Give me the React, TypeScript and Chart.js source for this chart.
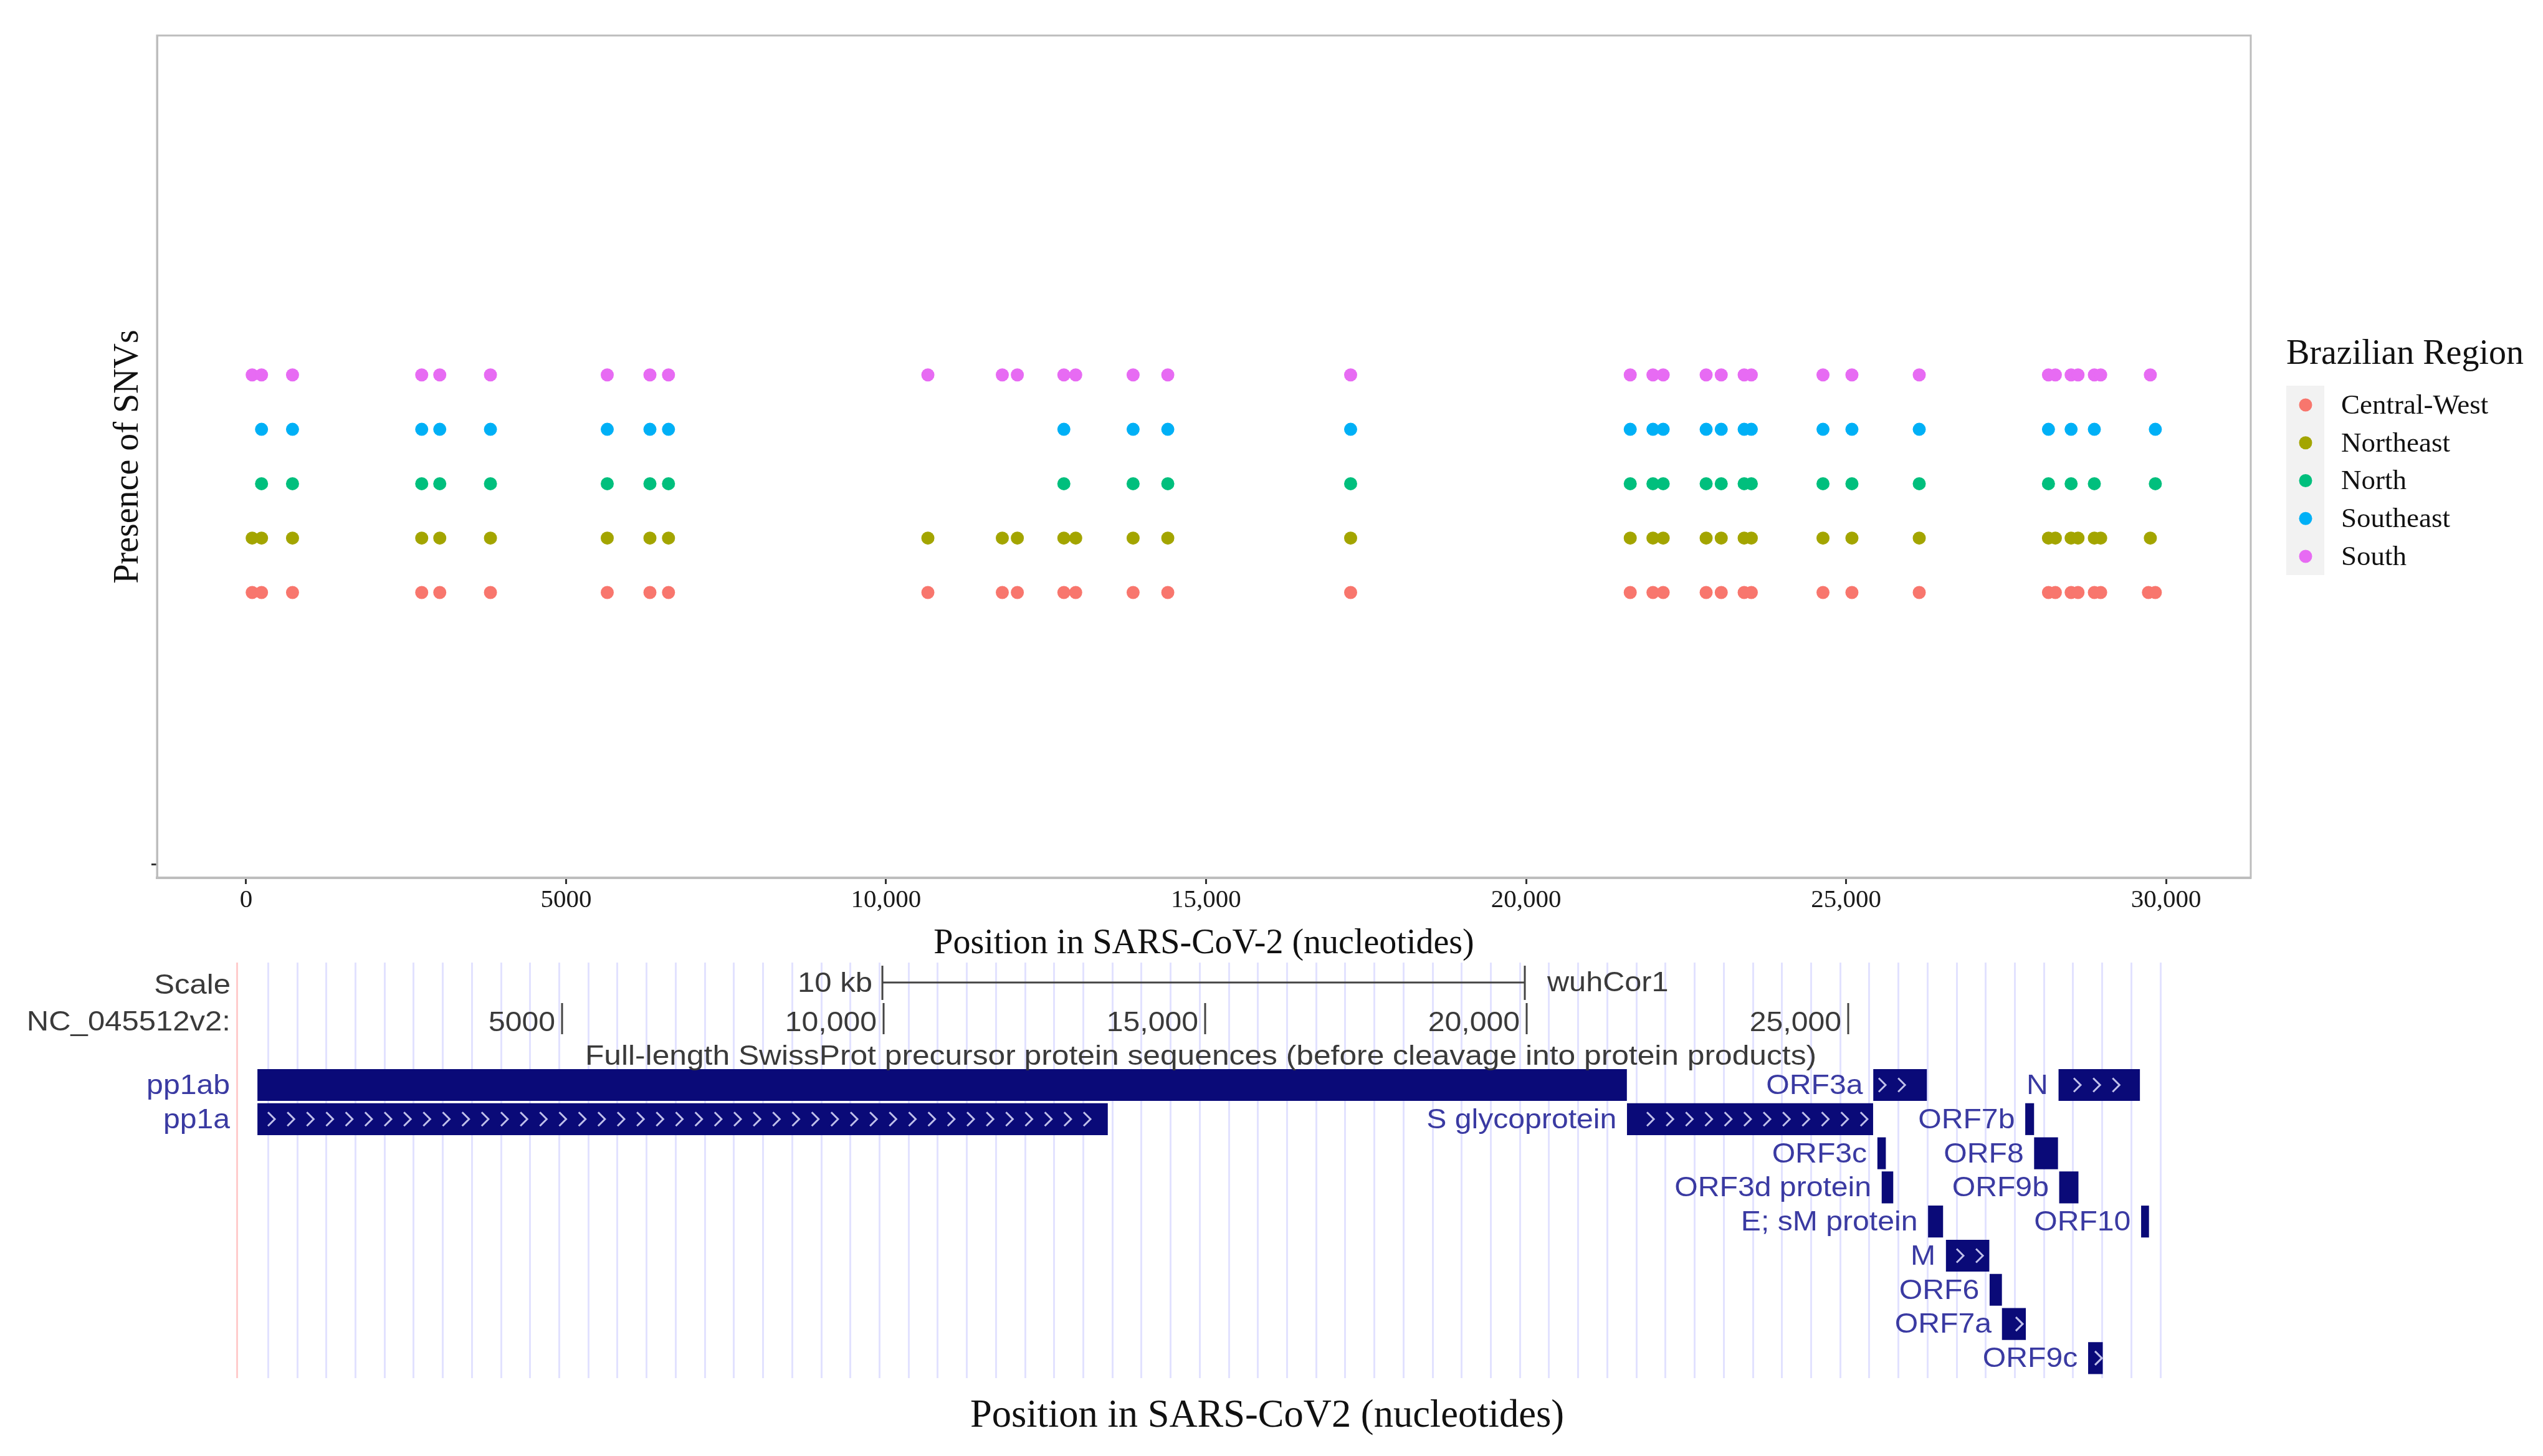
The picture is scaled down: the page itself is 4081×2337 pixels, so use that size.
import React, { useEffect, useRef } from "react";
import { Chart, registerables } from "chart.js";

Chart.register(...registerables);

const W = 4081;
const H = 2337;

// ---- upper panel data: SNV positions (nucleotides) per Brazilian region ----
const regionNames = ["Central-West", "Northeast", "North", "Southeast", "South"];
const regionColors = ["#F8766D", "#A3A500", "#00BF7D", "#00B0F6", "#E76BF3"];
const regionRows = [1, 2, 3, 4, 5];

const centralWestPositions = [
  95, 241, 725, 2744, 3026, 3818, 5643, 6310, 6600, 10653, 11816, 12051, 12778, 12963, 13860, 14402, 17259,
  21628, 21983, 22143, 22814, 23050, 23408, 23520, 24640, 25092, 26144, 28163, 28271, 28517, 28625, 28880, 28979,
  29725, 29833,
];
const northeastPositions = [
  95, 241, 725, 2744, 3026, 3818, 5643, 6310, 6600, 10653, 11816, 12051, 12778, 12963, 13860, 14402, 17259,
  21628, 21983, 22143, 22814, 23050, 23408, 23520, 24640, 25092, 26144, 28163, 28271, 28517, 28625, 28880, 28979,
  29755,
];
const northPositions = [
  241, 725, 2744, 3026, 3818, 5643, 6310, 6600, 12778, 13860, 14402, 17259,
  21628, 21983, 22143, 22814, 23050, 23408, 23520, 24640, 25092, 26144, 28163, 28517, 28880, 29833,
];
const southeastPositions = [
  241, 725, 2744, 3026, 3818, 5643, 6310, 6600, 12778, 13860, 14402, 17259,
  21628, 21983, 22143, 22814, 23050, 23408, 23520, 24640, 25092, 26144, 28163, 28517, 28880, 29833,
];
const southPositions = [
  95, 241, 725, 2744, 3026, 3818, 5643, 6310, 6600, 10653, 11816, 12051, 12778, 12963, 13860, 14402, 17259,
  21628, 21983, 22143, 22814, 23050, 23408, 23520, 24640, 25092, 26144, 28163, 28271, 28517, 28625, 28880, 28979,
  29755,
];
const regionPositions = [centralWestPositions, northeastPositions, northPositions, southeastPositions, southPositions];

const xTickValues = [0, 5000, 10000, 15000, 20000, 25000, 30000];
const xTickLabels = ["0", "5000", "10,000", "15,000", "20,000", "25,000", "30,000"];
const yTickValues = [-4];

// ---- lower panel data: genome browser track ----
const featureNames = [
  "pp1ab", "pp1a", "S glycoprotein", "ORF3a", "ORF3c", "ORF3d protein", "E; sM protein", "M", "ORF6",
  "ORF7a", "ORF7b", "ORF8", "N", "ORF9b", "ORF9c", "ORF10",
];
const featureStarts = [266, 266, 21563, 25393, 25457, 25524, 26245, 26523, 27202, 27394, 27756, 27894, 28274, 28284, 28734, 29558];
const featureEnds = [21555, 13483, 25384, 26220, 25582, 25697, 26472, 27191, 27387, 27759, 27887, 28259, 29533, 28577, 28955, 29674];
const featureRows = [0, 1, 1, 0, 2, 3, 4, 5, 6, 7, 1, 2, 0, 3, 8, 4];
const chevronFirst = [0, 475, 21919, 25523, 0, 0, 0, 26734, 0, 27655, 0, 0, 28556, 0, 28886, 0];
const chevronCounts = [0, 43, 12, 2, 0, 0, 0, 2, 0, 1, 0, 0, 3, 0, 1, 0];
const chevronStep = 302;

const rulerTicks = [5000, 10000, 15000, 20000, 25000];
const rulerLabels = ["5000", "10,000", "15,000", "20,000", "25,000"];
const scaleBarRange = [9981, 19971];
const trackTitle = "Full-length SwissProt precursor protein sequences (before cleavage into protein products)";

const SERIF = "'Liberation Serif', serif";
const SANS = "'Liberation Sans', sans-serif";

function text(ctx: any, s: string, x: number, y: number, font: string, color: string, align: any = "left", sx = 1) {
  ctx.save();
  ctx.font = font;
  ctx.fillStyle = color;
  ctx.textAlign = align;
  ctx.textBaseline = "middle";
  ctx.translate(x, y);
  ctx.scale(sx, 1);
  ctx.fillText(s, 0, 0);
  ctx.restore();
}

const panelAndLegend = {
  id: "panelAndLegend",
  beforeDatasetsDraw(chart: any) {
    const { ctx, chartArea: a } = chart;
    ctx.save();
    ctx.strokeStyle = "#bdbdbd";
    ctx.lineWidth = 3;
    ctx.strokeRect(a.left, a.top, a.right - a.left, a.bottom - a.top);
    ctx.restore();
  },
  afterDraw(chart: any) {
    const { ctx } = chart;
    text(ctx, "Brazilian Region", 3669, 569, `56px ${SERIF}`, "#111111");
    ctx.save();
    ctx.fillStyle = "#f2f2f2";
    ctx.fillRect(3669, 619, 61, 304);
    chart.data.datasets.forEach((d: any, i: number) => {
      const y = 650 + i * 60.75;
      ctx.beginPath();
      ctx.fillStyle = d.backgroundColor;
      ctx.arc(3700, y, 10.5, 0, Math.PI * 2);
      ctx.fill();
      text(ctx, d.label, 3757, y + 2, `45px ${SERIF}`, "#111111");
    });
    ctx.restore();
  },
};

const trackDecor = {
  id: "trackDecor",
  afterDatasetsDraw(chart: any) {
    const { ctx } = chart;
    const xs = chart.scales.x;
    const ys = chart.scales.y;
    const grey = "#3a3a3a";
    const blue = "#3a3aa2";
    const f = `45px ${SANS}`;

    // chevrons
    ctx.save();
    ctx.strokeStyle = "#c0c0ea";
    ctx.lineWidth = 3;
    featureNames.forEach((_, i) => {
      const y = ys.getPixelForValue(featureRows[i]);
      for (let k = 0; k < chevronCounts[i]; k++) {
        const x = xs.getPixelForValue(chevronFirst[i] + k * chevronStep);
        ctx.beginPath();
        ctx.moveTo(x - 5, y - 11);
        ctx.lineTo(x + 6, y);
        ctx.lineTo(x - 5, y + 11);
        ctx.stroke();
      }
    });
    ctx.restore();

    // gene labels
    featureNames.forEach((name, i) => {
      const y = ys.getPixelForValue(featureRows[i]) + 2;
      const x = featureStarts[i] < 1000 ? 369 : xs.getPixelForValue(featureStarts[i]) - 17;
      text(ctx, name, x, y, f, blue, "right", 1.07);
    });

    // header rows
    text(ctx, "Scale", 370, 1583, f, grey, "right", 1.09);
    text(ctx, "NC_045512v2:", 370, 1642, f, grey, "right", 1.09);
    text(ctx, "10 kb", 1400, 1580, f, grey, "right", 1.09);
    text(ctx, "wuhCor1", 2483, 1579, f, grey, "left", 1.08);
    text(ctx, trackTitle, 1927, 1697, f, grey, "center", 1.105);

    // scale bar
    const x0 = xs.getPixelForValue(scaleBarRange[0]);
    const x1 = xs.getPixelForValue(scaleBarRange[1]);
    ctx.save();
    ctx.strokeStyle = "#444444";
    ctx.lineWidth = 3;
    ctx.beginPath();
    ctx.moveTo(x0, 1577);
    ctx.lineTo(x1, 1577);
    ctx.moveTo(x0, 1550);
    ctx.lineTo(x0, 1605);
    ctx.moveTo(x1, 1550);
    ctx.lineTo(x1, 1605);
    ctx.stroke();
    // ruler
    rulerTicks.forEach((v, i) => {
      const x = xs.getPixelForValue(v);
      ctx.beginPath();
      ctx.moveTo(x, 1610);
      ctx.lineTo(x, 1660);
      ctx.stroke();
      text(ctx, rulerLabels[i], x - 11, 1643, f, grey, "right", 1.07);
    });
    ctx.restore();
  },
};

export default function App() {
  const topRef = useRef<HTMLCanvasElement | null>(null);
  const bottomRef = useRef<HTMLCanvasElement | null>(null);

  useEffect(() => {
    document.body.style.margin = "0";

    // top panel frame: left 252, right 3612, top 57, bottom 1409
    const topChart = new Chart(topRef.current as HTMLCanvasElement, {
      type: "scatter",
      data: {
        datasets: regionNames.map((name, i) => ({
          label: name,
          data: regionPositions[i].map((x) => ({ x, y: regionRows[i] })),
          backgroundColor: regionColors[i],
          borderWidth: 0,
          pointRadius: 10.5,
          showLine: false,
        })),
      },
      options: {
        animation: false,
        responsive: false,
        devicePixelRatio: 1,
        layout: { padding: { left: 173, right: W - 3612, top: 57, bottom: H - 1409 - 140 } },
        plugins: { legend: { display: false }, tooltip: { enabled: false } },
        scales: {
          x: {
            type: "linear",
            min: -1392,
            max: 31324,
            afterBuildTicks: (s: any) => {
              s.ticks = xTickValues.map((value) => ({ value }));
            },
            afterFit: (s: any) => {
              s.height = 140;
            },
            grid: { drawOnChartArea: false, tickLength: 10, tickColor: "#333333", tickWidth: 3 },
            border: { color: "#bdbdbd", width: 4 },
            ticks: {
              autoSkip: false,
              maxRotation: 0,
              minRotation: 0,
              padding: 2,
              color: "#1a1a1a",
              font: { family: SERIF, size: 41 },
              callback: (v: any) => xTickLabels[xTickValues.indexOf(v)],
            },
            title: {
              display: true,
              text: "Position in SARS-CoV-2 (nucleotides)",
              color: "#111111",
              padding: 0,
              font: { family: SERIF, size: 56 },
            },
          },
          y: {
            type: "linear",
            min: -4.246,
            max: 11.24,
            afterBuildTicks: (s: any) => {
              s.ticks = yTickValues.map((value) => ({ value }));
            },
            afterFit: (s: any) => {
              s.width = 79;
            },
            grid: { drawOnChartArea: false, tickLength: 9, tickColor: "#333333", tickWidth: 3 },
            border: { color: "#bdbdbd", width: 3 },
            ticks: { callback: () => "", font: { size: 10 } },
            title: {
              display: true,
              text: "Presence of SNVs",
              color: "#111111",
              padding: 0,
              font: { family: SERIF, size: 56 },
            },
          },
        },
      },
      plugins: [panelAndLegend],
    } as any);

    // bottom panel: track area 1545..2212, 0 nt at px 386, 0.1032 px per nt, right edge 4067
    const bottomChart = new Chart(bottomRef.current as HTMLCanvasElement, {
      type: "bar",
      data: {
        datasets: [
          {
            label: "SwissProt precursor proteins",
            data: featureNames.map((_, i) => ({ x: [featureStarts[i], featureEnds[i]], y: featureRows[i] })),
            backgroundColor: "#0a0a78",
            barThickness: 50.5,
            borderSkipped: false,
          },
        ],
      },
      options: {
        indexAxis: "y",
        animation: false,
        responsive: false,
        devicePixelRatio: 1,
        layout: { padding: { left: 0, right: W - 4067, top: 1545, bottom: H - 2212 - 99 } },
        plugins: { legend: { display: false }, tooltip: { enabled: false } },
        scales: {
          x: {
            type: "linear",
            min: -386 / 0.1032,
            max: (4067 - 386) / 0.1032,
            afterBuildTicks: (s: any) => {
              const t = [{ value: -58 }];
              for (let k = 0; k < 66; k++) t.push({ value: 430 + k * 452.7 });
              s.ticks = t;
            },
            afterFit: (s: any) => {
              s.height = 99;
            },
            grid: {
              drawTicks: false,
              lineWidth: 3,
              color: (c: any) => (c.tick && c.tick.value < 0 ? "#ffcccc" : "#e2e2ff"),
            },
            border: { display: false },
            ticks: { display: false, autoSkip: false },
            title: {
              display: true,
              text: "Position in SARS-CoV2 (nucleotides)",
              color: "#111111",
              padding: 0,
              font: { family: SERIF, size: 62.5 },
            },
          },
          y: {
            type: "linear",
            display: false,
            reverse: true,
            offset: false,
            grid: { offset: false },
            min: -3.586,
            max: 8.586,
          },
        },
      },
      plugins: [trackDecor],
    } as any);

    return () => {
      topChart.destroy();
      bottomChart.destroy();
    };
  }, []);

  const canvasStyle: React.CSSProperties = { position: "absolute", left: 0, top: 0, display: "block" };
  return (
    <div
      style={{
        position: "absolute",
        left: 0,
        top: 0,
        width: W,
        height: H,
        background: "#ffffff",
        overflow: "hidden",
        filter: "blur(0.7px)",
      }}
    >
      <canvas ref={topRef} width={W} height={H} style={canvasStyle} />
      <canvas ref={bottomRef} width={W} height={H} style={canvasStyle} />
    </div>
  );
}
